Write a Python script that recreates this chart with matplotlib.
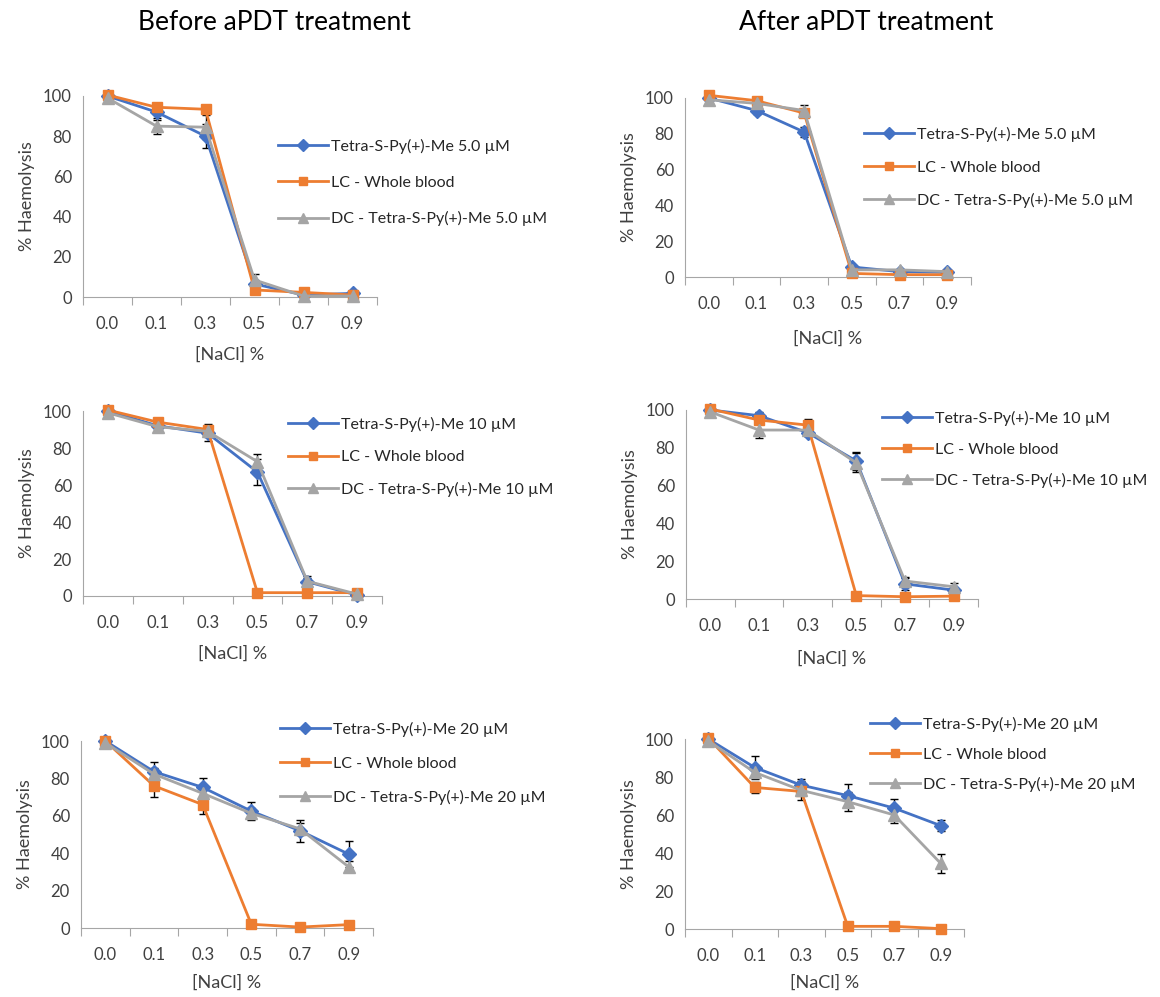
import numpy as np
import matplotlib.pyplot as plt

plt.rcParams['font.family'] = ['Lato', 'DejaVu Sans']

nacl = ["0.0", "0.1", "0.3", "0.5", "0.7", "0.9"]

# Before aPDT treatment
b5_tetra = [100, 92, 80, 6.5, 1, 1.8]
b5_lc = [100.5, 94.4, 93.4, 3.5, 2.3, 1]
b5_dc = [99, 85, 84.5, 8.5, 0.5, 0.5]
b10_tetra = [100, 92, 88, 67, 7.7, 0.5]
b10_lc = [100.5, 94, 90, 1.8, 1.8, 1.8]
b10_dc = [99, 91.5, 89, 72.6, 8, 1]
b20_tetra = [100, 83.6, 75.2, 62.5, 52, 39.5]
b20_lc = [100, 76, 66, 2, 0.5, 1.8]
b20_dc = [99, 82.3, 72, 61.3, 53, 32.7]

# After aPDT treatment
a5_tetra = [100, 93, 81, 5.6, 3, 2.6]
a5_lc = [101.5, 98.5, 91.6, 2, 1.3, 1.3]
a5_dc = [99, 97, 93, 4, 4, 3]
a10_tetra = [100, 97, 88, 73, 8, 4.7]
a10_lc = [100.5, 94.7, 92, 1.8, 1.2, 1.5]
a10_dc = [99, 89.4, 89.4, 72, 9.5, 6.5]
a20_tetra = [100, 85, 75.7, 70.2, 63.6, 54.4]
a20_lc = [100.5, 74.5, 72.4, 1.4, 1.4, 0.2]
a20_dc = [99, 82.4, 73, 67, 60, 34.5]

# standard deviations (estimated from error bars)
b5_err = [[0.5, 4, 6, 2, 0.5, 0.5], [0.5, 2, 2, 1, 0.5, 0.5], [0.5, 4, 6, 3, 0.5, 0.5]]
b10_err = [[0.5, 3, 4, 7, 2, 0.5], [0.5, 2, 3, 1, 0.5, 0.5], [0.5, 2, 3, 4, 3, 0.5]]
b20_err = [[0.5, 5, 5, 5, 6, 7], [0.5, 6, 5, 1, 0.5, 0.5], [0.5, 3, 3, 3, 3, 3]]
a5_err = [[0.5, 2, 3, 1, 0.5, 0.5], [0.5, 1, 2, 1, 0.5, 0.5], [0.5, 2, 3, 1, 0.5, 0.5]]
a10_err = [[0.5, 2, 2, 5, 3, 1], [0.5, 2, 3, 1, 0.5, 0.5], [0.5, 4, 3, 5, 2, 2]]
a20_err = [[0.5, 6, 3, 6, 5, 3], [0.5, 3, 2, 1, 0.5, 0.5], [0.5, 3, 5, 5, 4, 5]]

conc = ["5.0", "10", "20"]
colors = ["#4472C4", "#ED7D31", "#A5A5A5"]
markers = ["D", "s", "^"]
msizes = [7, 7, 8]

W, H = 1160, 997
fig = plt.figure(figsize=(W/100, H/100), dpi=100)

# panel boxes in pixels: x0, x1, y_top(100), y_bottom(0)
boxes = [(83, 377, 96, 297), (685, 971, 98, 277),
         (83, 382, 411, 596), (686, 978, 410, 599),
         (81, 373, 741, 928), (685, 964, 739, 929)]
# legend: handle x start, first row y, row spacing
leg_pos = [(278, 145, 1.34), (864, 133, 1.15), (288, 423, 1.12),
           (882, 417, 1.02), (280, 728, 1.21), (870, 723, 0.96)]
xlab_y = [355, 339, 654, 659, 983, 983]

panels = [(b5_tetra, b5_lc, b5_dc, b5_err, conc[0]),
          (a5_tetra, a5_lc, a5_dc, a5_err, conc[0]),
          (b10_tetra, b10_lc, b10_dc, b10_err, conc[1]),
          (a10_tetra, a10_lc, a10_dc, a10_err, conc[1]),
          (b20_tetra, b20_lc, b20_dc, b20_err, conc[2]),
          (a20_tetra, a20_lc, a20_dc, a20_err, conc[2])]

x = np.arange(len(nacl)) + 0.5
for k, (t, lc, dc, err, c) in enumerate(panels):
    x0, x1, yt, yb = boxes[k]
    ax = fig.add_axes([x0/W, 1 - yb/H, (x1-x0)/W, (yb-yt)/H])
    labels = ["Tetra-S-Py(+)-Me " + c + " µM", "LC - Whole blood",
              "DC - Tetra-S-Py(+)-Me " + c + " µM"]
    for i, ys in enumerate([t, lc, dc]):
        ax.errorbar(x, ys, yerr=err[i], fmt='none', ecolor='black', elinewidth=1,
                    capsize=3, capthick=1, zorder=2, clip_on=False)
        ax.plot(x, ys, color=colors[i], marker=markers[i], markersize=msizes[i],
                lw=2, label=labels[i], zorder=3 + i, clip_on=False)
    ax.set_xlim(0, len(nacl))
    ax.set_ylim(0, 100)
    ax.set_xticks(np.arange(len(nacl) + 1))
    ax.set_xticklabels([])
    ax.set_xticks(x, minor=True)
    ax.set_xticklabels(nacl, minor=True)
    ax.tick_params(axis='x', which='major', length=6, color='#A6A6A6', direction='out')
    ax.tick_params(axis='x', which='minor', length=0, pad=14, labelsize=12, labelcolor='#404040')
    ax.set_yticks([0, 20, 40, 60, 80, 100])
    ax.tick_params(axis='y', length=0, pad=8, labelsize=12, labelcolor='#404040')
    for s in ['top', 'right']:
        ax.spines[s].set_visible(False)
    for s in ['left', 'bottom']:
        ax.spines[s].set_color('#A6A6A6')
    ax.set_ylabel("% Haemolysis", fontsize=13, color='#404040', labelpad=6)
    fig.text((x0 + x1)/2/W, 1 - xlab_y[k]/H, "[NaCl] %", fontsize=13, color='#404040',
             ha='center', va='center')
    lx, ly, ls = leg_pos[k]
    fig.legend(*ax.get_legend_handles_labels(), loc='upper left',
               bbox_to_anchor=(lx/W, 1 - (ly - 6)/H), frameon=False, fontsize=11.5,
               handlelength=3.1, handletextpad=0.2, labelspacing=ls, borderpad=0,
               borderaxespad=0, labelcolor='#262626', markerscale=0.85)

fig.text(274/W, 1 - 23/H, "Before aPDT treatment", fontsize=19, ha='center', va='center')
fig.text(866/W, 1 - 23/H, "After aPDT treatment", fontsize=19, ha='center', va='center')

plt.savefig("out.png", dpi=100)
